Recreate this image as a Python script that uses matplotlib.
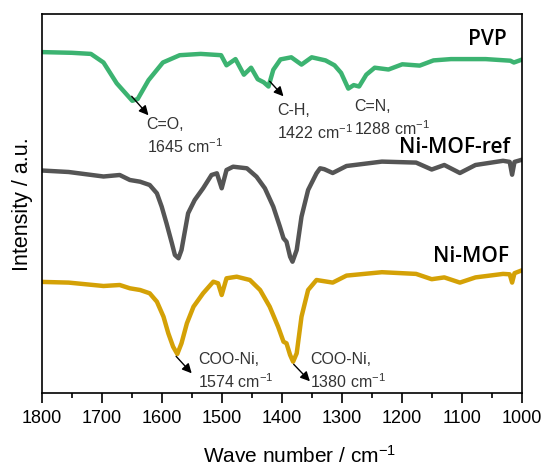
import matplotlib.pyplot as plt
import numpy as np

# FTIR spectra (arbitrary intensity units, stacked)
pvp_wn = [1800, 1750, 1718, 1697, 1675, 1649, 1640, 1622, 1598, 1570, 1535, 1501,
          1492, 1477, 1463, 1451, 1440, 1430, 1422, 1414, 1402, 1384, 1367, 1350,
          1327, 1312, 1301, 1289, 1280, 1271, 1259, 1245, 1222, 1199, 1170, 1147,
          1118, 1060, 1019, 1013, 1000]
pvp_int = [341.2, 340.5, 339.4, 330.8, 310.0, 292.5, 294.3, 313.1, 330.8, 338.1, 339.4, 338.1,
           328.0, 334.2, 318.6, 325.6, 314.1, 311.0, 306.8, 323.5, 333.9, 336.0, 328.7, 336.0,
           332.9, 328.0, 320.4, 304.7, 308.2, 306.8, 318.6, 325.6, 323.8, 329.0, 327.7, 332.9,
           334.2, 334.2, 332.6, 330.8, 333.6]

ref_wn = [1800, 1755, 1697, 1670, 1653, 1636, 1620, 1608, 1600, 1592, 1583, 1578,
          1572, 1567, 1561, 1556, 1545, 1531, 1517, 1508, 1500, 1492, 1481, 1458,
          1442, 1428, 1414, 1403, 1397, 1392, 1386, 1382, 1375, 1367, 1356, 1342,
          1336, 1329, 1315, 1292, 1233, 1176, 1150, 1129, 1103, 1077, 1031, 1020,
          1016, 1012, 1000]
ref_int = [222.8, 221.3, 216.8, 218.3, 213.3, 211.6, 208.3, 200.0, 186.6, 170.0, 150.0, 138.3,
           135.0, 143.3, 163.3, 180.0, 193.3, 205.0, 218.3, 220.0, 205.0, 223.3, 226.6, 225.0,
           216.6, 205.0, 186.6, 166.6, 155.0, 151.6, 136.6, 131.6, 143.3, 176.6, 203.3, 220.0,
           225.0, 224.1, 220.3, 227.3, 231.7, 230.7, 223.8, 228.3, 220.3, 228.3, 232.5, 231.4,
           218.6, 231.4, 233.5]

mof_wn = [1800, 1755, 1697, 1670, 1653, 1636, 1620, 1608, 1597, 1589, 1581, 1574,
          1567, 1558, 1547, 1531, 1514, 1506, 1500, 1492, 1475, 1453, 1436, 1420,
          1406, 1397, 1392, 1386, 1381, 1375, 1367, 1356, 1342, 1315, 1292, 1233,
          1176, 1150, 1129, 1103, 1077, 1031, 1020, 1016, 1012, 1000]
mof_int = [111.4, 110.7, 107.3, 108.3, 105.0, 103.3, 100.0, 91.6, 76.6, 60.0, 46.6, 39.3,
           50.0, 70.0, 86.6, 100.0, 111.6, 110.0, 98.3, 115.0, 116.6, 113.3, 103.3, 86.6,
           66.6, 51.6, 50.0, 38.3, 31.6, 40.0, 76.6, 103.3, 113.3, 110.7, 117.7, 121.1,
           119.4, 114.1, 115.9, 110.7, 115.9, 119.4, 119.0, 110.7, 120.1, 122.9]

plt.rcParams['font.family'] = ['Liberation Sans', 'DejaVu Sans']
plt.rcParams['mathtext.fontset'] = 'custom'
plt.rcParams['mathtext.rm'] = 'Liberation Sans'
plt.rcParams['mathtext.it'] = 'Liberation Sans'
plt.rcParams['mathtext.default'] = 'regular'

fig = plt.figure(figsize=(5.44, 4.65), dpi=100)
ax = fig.add_axes([41.7 / 544, (465 - 393.3) / 465, 480 / 544, 378.8 / 465])

ax.plot(pvp_wn, pvp_int, color='#3cb371', lw=3.2, solid_joinstyle='round')
ax.plot(ref_wn, ref_int, color='#555555', lw=3.2, solid_joinstyle='round')
ax.plot(mof_wn, mof_int, color='#d4a106', lw=3.2, solid_joinstyle='round')

ax.set_xlim(1800, 1000)
ax.set_ylim(0, 378.8)
ax.set_yticks([])
ax.set_xticks(np.arange(1800, 999, -100))
ax.set_xticks(np.arange(1750, 1000, -100), minor=True)
ax.tick_params(axis='x', which='major', direction='out', length=7, width=1.2,
               labelsize=13, pad=5)
ax.tick_params(axis='x', which='minor', direction='out', length=3.6, width=1.2)
for s in ax.spines.values():
    s.set_linewidth(1.2)

ax.set_xlabel('Wave number / cm$^{-1}$', fontsize=15)
ax.xaxis.set_label_coords(0.538, -0.135)
ax.set_ylabel('Intensity / a.u.', fontsize=15.5, labelpad=6)

# sample labels
lab = dict(family=['Open Sans', 'DejaVu Sans'], fontsize=15, fontweight='semibold',
           ha='right', va='center')
ax.text(1025, 354, 'PVP', **lab)
ax.text(1019, 246, 'Ni-MOF-ref', **lab)
ax.text(1022, 137, 'Ni-MOF', **lab)

# band assignments
arw = dict(arrowstyle='-|>', color='black', lw=1, mutation_scale=14, shrinkA=0, shrinkB=0)
note = dict(fontsize=11.5, color='#333333', va='top', ha='left', linespacing=1.35)

ax.annotate('', xy=(1622, 278), xytext=(1650, 297), arrowprops=arw)
ax.text(1625, 276, 'C=O,\n1645 cm$^{-1}$', **note)

ax.annotate('', xy=(1397, 297), xytext=(1420, 312), arrowprops=arw)
ax.text(1408, 290, 'C-H,\n1422 cm$^{-1}$', **note)

ax.text(1279, 294, 'C=N,\n1288 cm$^{-1}$', **note)

ax.annotate('', xy=(1550, 20), xytext=(1576, 37), arrowprops=arw)
ax.text(1539, 41, 'COO-Ni,\n1574 cm$^{-1}$', **note)

ax.annotate('', xy=(1353, 12), xytext=(1380, 29), arrowprops=arw)
ax.text(1353, 41, 'COO-Ni,\n1380 cm$^{-1}$', **note)

plt.savefig('out.png', dpi=100)
